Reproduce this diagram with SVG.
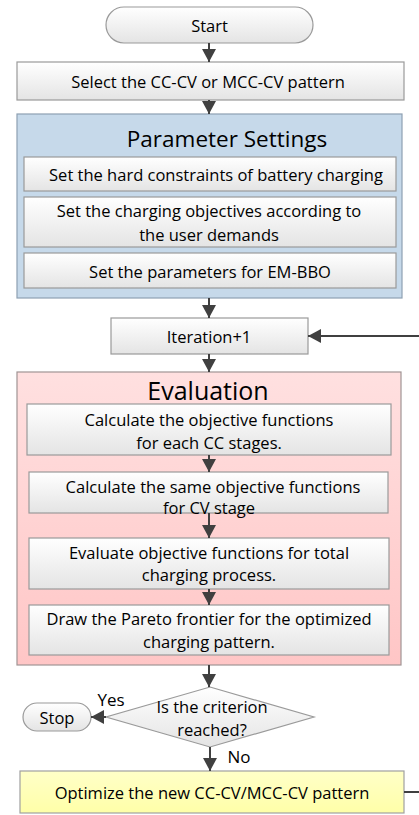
<svg xmlns="http://www.w3.org/2000/svg" width="419" height="815" viewBox="0 0 419 815">
<defs>
<linearGradient id="gGray" x1="0" y1="0" x2="0" y2="1"><stop offset="0" stop-color="#FFFFFF"/><stop offset="1" stop-color="#E4E4E4"/></linearGradient>
<linearGradient id="gPink" x1="0" y1="0" x2="0" y2="1"><stop offset="0" stop-color="#FFE0E0"/><stop offset="1" stop-color="#FFC6C6"/></linearGradient>
<linearGradient id="gYellow" x1="0" y1="0" x2="0" y2="1"><stop offset="0" stop-color="#FFFFC8"/><stop offset="1" stop-color="#FFFFA8"/></linearGradient>
<marker id="arr" markerWidth="13" markerHeight="14" refX="13" refY="7" orient="auto" markerUnits="userSpaceOnUse"><path d="M0,0 L13,7 L0,14 Z" fill="#404040"/></marker>
</defs>
<style>
.box{fill:url(#gGray);stroke:#9A9A9A;stroke-width:1.2}
.t{font-family:"Open Sans","Liberation Sans",sans-serif;font-size:16.5px;fill:#000;text-anchor:middle;dominant-baseline:central}
.big{font-size:22.5px}
.conn{stroke:#404040;stroke-width:2;fill:none;marker-end:url(#arr)}
</style>
<g id="start"><rect x="106" y="7" width="207" height="36" rx="18" class="box"/><text class="t" x="209.5" y="25">Start</text></g>
<g id="select"><rect x="17" y="62" width="387" height="38" class="box"/><text class="t" x="208" y="81">Select the CC-CV or MCC-CV pattern</text></g>
<g id="parameter-settings"><rect x="17" y="114" width="385" height="184" fill="#C6D9EA" stroke="#8EA0B2" stroke-width="1.2"/><text class="t big" x="227" y="138">Parameter Settings</text></g>
<g id="hard-constraints"><rect x="24" y="157" width="372" height="34" class="box"/><text class="t" x="216" y="174">Set the hard constraints of battery charging</text></g>
<g id="objectives"><rect x="24" y="197" width="372" height="50" class="box"/><text class="t" x="209" y="210">Set the charging objectives according to</text><text class="t" x="209" y="234">the user demands</text></g>
<g id="em-bbo"><rect x="24" y="253" width="372" height="35" class="box"/><text class="t" x="210" y="271">Set the parameters for EM-BBO</text></g>
<g id="iteration"><rect x="111" y="318" width="197" height="36" class="box"/><text class="t" x="209" y="336">Iteration+1</text></g>
<g id="evaluation"><rect x="17" y="372" width="384" height="293" fill="url(#gPink)" stroke="#A09494" stroke-width="1.2"/><text class="t" x="208" y="390" style="font-size:25px">Evaluation</text></g>
<g id="calc-cc"><rect x="27" y="404" width="364" height="51" class="box"/><text class="t" x="209" y="419">Calculate the objective functions</text><text class="t" x="209" y="442">for each CC stages.</text></g>
<g id="calc-cv"><rect x="29" y="472" width="359" height="41" class="box"/><text class="t" x="213" y="486">Calculate the same objective functions</text><text class="t" x="209" y="507">for CV stage</text></g>
<g id="eval-total"><rect x="29" y="538" width="360" height="51" class="box"/><text class="t" x="209" y="552">Evaluate objective functions for total</text><text class="t" x="209" y="574">charging process.</text></g>
<g id="pareto"><rect x="29" y="605" width="360" height="50" class="box"/><text class="t" x="209" y="618">Draw the Pareto frontier for the optimized</text><text class="t" x="209" y="641">charging pattern.</text></g>
<g id="criterion"><polygon points="210,687 314,717 210,747 106,717" class="box"/><text class="t" x="212" y="706">Is the criterion</text><text class="t" x="212" y="729">reached?</text></g>
<g id="stop"><rect x="23" y="703" width="68" height="28" rx="14" class="box"/><text class="t" x="57" y="717">Stop</text></g>
<g id="labels"><text class="t" x="111" y="699" style="font-size:17px">Yes</text><text class="t" x="239" y="756" style="font-size:17px">No</text></g>
<g id="optimize"><rect x="20" y="771" width="384" height="42" fill="url(#gYellow)" stroke="#A0A0A0" stroke-width="1.2"/><text class="t" x="212" y="792">Optimize the new CC-CV/MCC-CV pattern</text></g>
<g id="connectors">
<path class="conn" d="M209,43 V62"/>
<path class="conn" d="M209,100 V114"/>
<path class="conn" d="M209,298 V318"/>
<path class="conn" d="M209,354 V372"/>
<path class="conn" d="M209,455 V472"/>
<path class="conn" d="M209,513 V538"/>
<path class="conn" d="M209,589 V605"/>
<path class="conn" d="M209,665 V687"/>
<path class="conn" d="M106,717 H91"/>
<path class="conn" d="M210,747 V771"/>
<path class="conn" d="M404,792 H420 V336 H308"/>
</g>
</svg>
